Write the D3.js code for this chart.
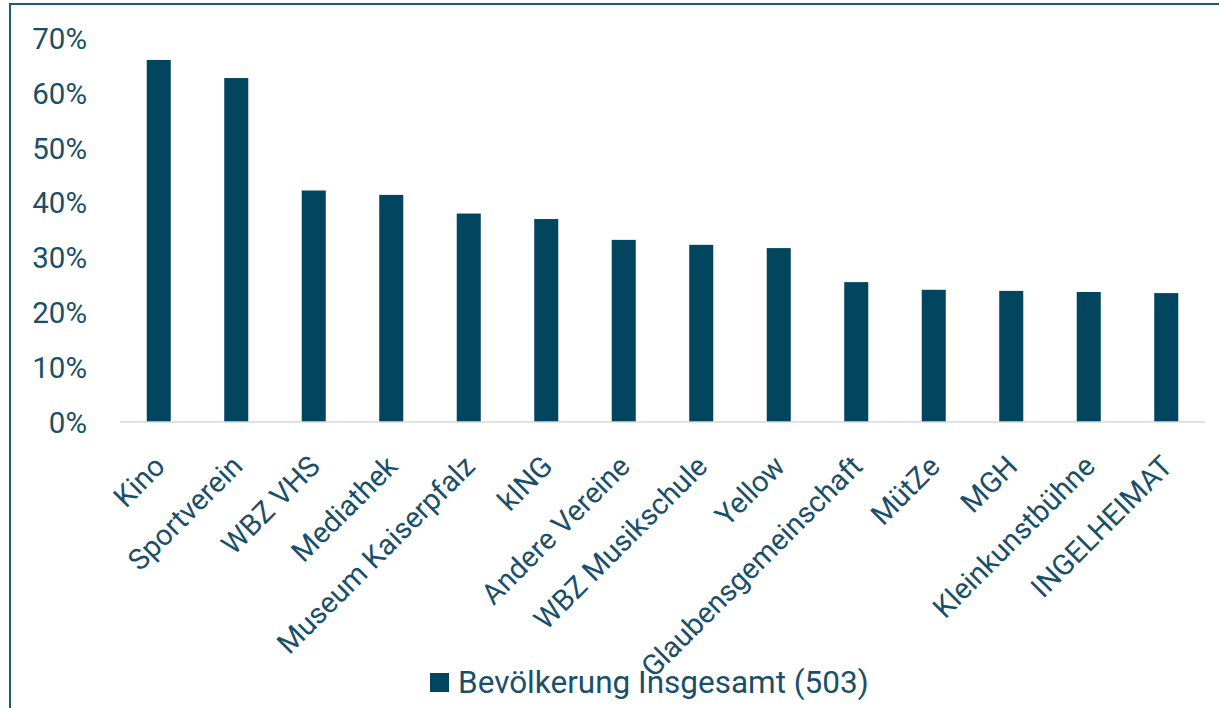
<!DOCTYPE html>
<html>
<head>
<meta charset="utf-8">
<script src="https://cdn.jsdelivr.net/npm/d3@7"></script>
<style>
  html, body { margin: 0; padding: 0; background: #fff; }
  svg { display: block; }
  text { font-family: Roboto, "Noto Sans", sans-serif; fill: #1a4f69; }
</style>
</head>
<body>
<svg id="chart" width="1219" height="708"></svg>
<script>
const categories = ["Kino", "Sportverein", "WBZ VHS", "Mediathek", "Museum Kaiserpfalz", "kING",
  "Andere Vereine", "WBZ Musikschule", "Yellow", "Glaubensgemeinschaft", "MütZe", "MGH",
  "Kleinkunstbühne", "INGELHEIMAT"];
const values = [0.660, 0.627, 0.422, 0.414, 0.380, 0.370, 0.332, 0.323, 0.317, 0.255, 0.241, 0.239, 0.237, 0.235];
const yTicks = [0, 0.1, 0.2, 0.3, 0.4, 0.5, 0.6, 0.7];
const seriesName = "Bevölkerung Insgesamt (503)";

const svg = d3.select("#chart");
const barColor = "#02455f";

// frame
svg.append("rect")
  .attr("x", 10).attr("y", 4)
  .attr("width", 1300).attr("height", 800)
  .attr("fill", "none").attr("stroke", "#1d5a75").attr("stroke-width", 2);

const x = d3.scaleBand().domain(categories).range([120, 1205]).paddingInner(0.69).paddingOuter(0.345);
const y = d3.scaleLinear().domain([0, 0.7]).range([422, 38]);

// y axis labels
const yAxis = d3.axisLeft(y).tickValues(yTicks).tickFormat(d3.format(".0%")).tickSize(0).tickPadding(0);
const yg = svg.append("g").attr("transform", "translate(87,0)").call(yAxis);
yg.select(".domain").remove();
yg.selectAll("text").attr("font-size", 29.5).attr("font-family", "Roboto, 'Noto Sans', sans-serif")
  .attr("fill", "#1a4f69").attr("dy", "0.35em");

// bars
svg.append("g").selectAll("rect").data(values).join("rect")
  .attr("x", (d, i) => x(categories[i]))
  .attr("y", d => y(d))
  .attr("width", x.bandwidth())
  .attr("height", d => y(0) - y(d))
  .attr("fill", barColor);

// x axis
const xAxis = d3.axisBottom(x).tickSize(0).tickPadding(0);
const xg = svg.append("g").attr("transform", `translate(0,${y(0)})`).call(xAxis);
xg.select(".domain").attr("stroke", "#d9d9d9").attr("stroke-width", 1.5)
  .attr("d", `M${x.range()[0]},0H${x.range()[1]}`);
xg.selectAll(".tick text")
  .attr("font-size", 29).attr("font-family", "Roboto, 'Noto Sans', sans-serif")
  .attr("fill", "#1a4f69")
  .attr("text-anchor", "end")
  .attr("dy", null).attr("y", null)
  .attr("transform", "translate(8,46) rotate(-45)");

// legend
const lg = svg.append("g").attr("transform", "translate(430,673)");
lg.append("rect").attr("width", 19).attr("height", 19).attr("fill", barColor);
lg.append("text").attr("x", 28).attr("y", 20).attr("font-size", 31.5).text(seriesName);
</script>
</body>
</html>
